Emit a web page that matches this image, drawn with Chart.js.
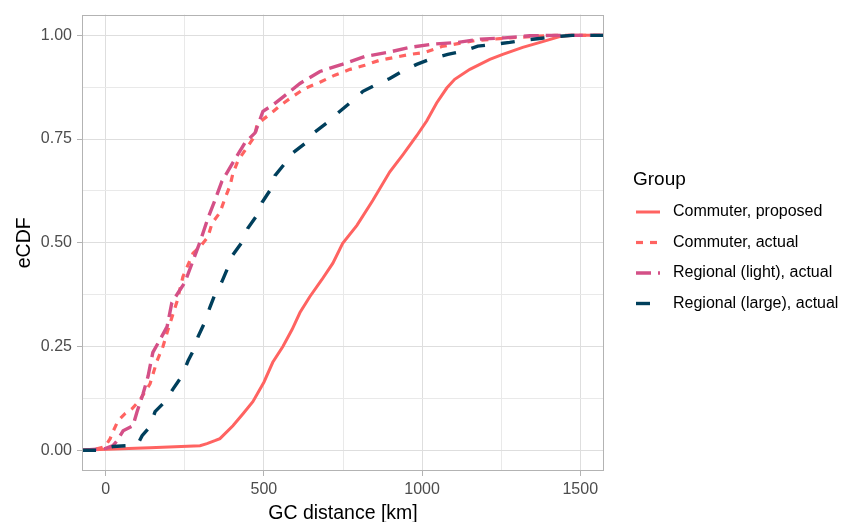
<!DOCTYPE html>
<html>
<head>
<meta charset="utf-8">
<script src="https://cdn.jsdelivr.net/npm/chart.js@4.4.0/dist/chart.umd.min.js"></script>
<style>
html,body{margin:0;padding:0;background:#ffffff;}
#wrap{width:843px;height:522px;}
</style>
</head>
<body>
<div id="wrap"><canvas id="c" width="843" height="522"></canvas></div>
<script>
// ---- data ----
const seriesLabels = ["Commuter, proposed", "Commuter, actual", "Regional (light), actual", "Regional (large), actual"];

const proposedX = [-75, -18, 140, 298, 320, 345, 361, 402, 434, 465, 500, 528, 560, 589, 614, 645, 683, 718, 749, 794, 844, 898, 939, 983, 1015, 1046, 1078, 1103, 1151, 1214, 1255, 1318, 1381, 1435, 1477, 1575];
const proposedY = [0, 0.002, 0.006, 0.011, 0.016, 0.023, 0.028, 0.059, 0.088, 0.117, 0.164, 0.212, 0.250, 0.291, 0.332, 0.370, 0.411, 0.451, 0.499, 0.542, 0.602, 0.671, 0.712, 0.758, 0.794, 0.837, 0.873, 0.894, 0.918, 0.942, 0.954, 0.971, 0.985, 0.997, 1.0, 1.0];

const commuterActualX = [-75, -34, -2, 14, 23, 39, 61, 83, 108, 140, 162, 181, 197, 225, 244, 276, 298, 323, 336, 361, 377, 393, 402, 418, 446, 472, 478, 519, 557, 592, 629, 677, 724, 772, 819, 866, 914, 961, 1009, 1062, 1113, 1166, 1245, 1340, 1419, 1575];
const commuterActualY = [0, 0.002, 0.009, 0.028, 0.045, 0.071, 0.088, 0.100, 0.121, 0.160, 0.215, 0.250, 0.291, 0.358, 0.418, 0.475, 0.490, 0.514, 0.547, 0.573, 0.607, 0.638, 0.667, 0.698, 0.729, 0.758, 0.786, 0.810, 0.834, 0.853, 0.872, 0.887, 0.904, 0.918, 0.928, 0.940, 0.947, 0.954, 0.959, 0.973, 0.980, 0.987, 0.992, 0.997, 1.0, 1.0];

const regionalLightX = [-75, -2, 23, 36, 55, 86, 99, 118, 134, 149, 172, 194, 209, 235, 250, 273, 298, 323, 345, 367, 402, 440, 472, 497, 528, 560, 614, 677, 747, 819, 892, 961, 1034, 1113, 1183, 1261, 1340, 1419, 1575];
const regionalLightY = [0, 0.004, 0.011, 0.023, 0.047, 0.059, 0.093, 0.136, 0.179, 0.236, 0.267, 0.298, 0.356, 0.387, 0.404, 0.451, 0.502, 0.559, 0.602, 0.648, 0.693, 0.741, 0.765, 0.817, 0.832, 0.851, 0.884, 0.913, 0.930, 0.949, 0.959, 0.971, 0.979, 0.983, 0.991, 0.994, 0.999, 1.0, 1.0];

const regionalLargeX = [-75, -27, -9, 23, 70, 102, 115, 140, 156, 187, 213, 241, 260, 282, 292, 314, 329, 345, 367, 386, 402, 431, 449, 478, 494, 519, 535, 566, 592, 629, 661, 699, 734, 772, 813, 857, 898, 936, 983, 1024, 1081, 1129, 1176, 1223, 1277, 1318, 1378, 1425, 1475, 1575];
const regionalLargeY = [0, 0, 0.004, 0.009, 0.011, 0.016, 0.035, 0.057, 0.093, 0.117, 0.148, 0.179, 0.215, 0.248, 0.274, 0.310, 0.344, 0.375, 0.406, 0.440, 0.471, 0.502, 0.535, 0.566, 0.597, 0.626, 0.662, 0.691, 0.717, 0.739, 0.767, 0.789, 0.813, 0.837, 0.865, 0.882, 0.896, 0.913, 0.930, 0.942, 0.954, 0.962, 0.974, 0.978, 0.983, 0.988, 0.993, 0.997, 1.0, 1.0];

const xTickValues = [0, 250, 500, 750, 1000, 1250, 1500];
const xMajorTicks = [0, 500, 1000, 1500];
const yTickValues = [0, 0.125, 0.25, 0.375, 0.5, 0.625, 0.75, 0.875, 1.0];
const yMajorTicks = [0, 0.25, 0.5, 0.75, 1.0];

// ---- build ----
function pts(xs, ys) { return xs.map((x, i) => ({ x: x, y: ys[i] })); }
const FONT = "'Liberation Sans', Arial, Helvetica, sans-serif";
const isMajorX = v => xMajorTicks.some(m => Math.abs(m - v) < 1e-6);
const isMajorY = v => yMajorTicks.some(m => Math.abs(m - v) < 1e-6);

const colors = ["#ff6361", "#ff6361", "#d45087", "#003f5c"];
const dashes = [[], [7, 7], [15, 7], [14, 16]];
const widths = [3, 3.2, 3.4, 3.4];
const seriesData = [
  pts(proposedX, proposedY),
  pts(commuterActualX, commuterActualY),
  pts(regionalLightX, regionalLightY),
  pts(regionalLargeX, regionalLargeY)
];

const datasets = seriesData.map((d, i) => ({
  label: seriesLabels[i],
  data: d,
  borderColor: colors[i],
  backgroundColor: colors[i],
  borderWidth: widths[i],
  borderDash: dashes[i],
  pointRadius: 0,
  tension: 0,
  fill: false,
  order: 3 - i
}));

const framePlugin = {
  id: 'frame',
  afterDatasetsDraw(chart) {
    const a = chart.chartArea, ctx = chart.ctx;
    ctx.save();
    ctx.strokeStyle = '#b3b3b3';
    ctx.lineWidth = 1;
    ctx.setLineDash([]);
    ctx.strokeRect(Math.round(a.left) + 0.5, Math.round(a.top) + 0.5, Math.round(a.right - a.left) - 1, Math.round(a.bottom - a.top) - 1);
    ctx.restore();
  }
};

const legendPlugin = {
  id: 'ggLegend',
  afterDraw(chart) {
    const ctx = chart.ctx;
    ctx.save();
    ctx.fillStyle = '#000000';
    ctx.textBaseline = 'middle';
    ctx.textAlign = 'left';
    ctx.font = "19px " + FONT;
    ctx.fillText('Group', 633, 180);
    chart.data.datasets.forEach((ds, i) => {
      const y = 212 + i * 30.5;
      ctx.beginPath();
      ctx.strokeStyle = ds.borderColor;
      ctx.lineWidth = ds.borderWidth;
      ctx.setLineDash(ds.borderDash || []);
      ctx.moveTo(636, y);
      ctx.lineTo(660, y);
      ctx.stroke();
      ctx.setLineDash([]);
      ctx.fillStyle = '#000000';
      ctx.font = "16px " + FONT;
      ctx.fillText(ds.label, 673, y);
    });
    ctx.restore();
  }
};

new Chart(document.getElementById('c'), {
  type: 'line',
  data: { datasets: datasets },
  options: {
    responsive: false,
    animation: false,
    devicePixelRatio: 1,
    layout: { padding: { left: 0, top: 13, right: 239, bottom: 0 } },
    plugins: {
      legend: { display: false },
      tooltip: { enabled: false }
    },
    scales: {
      x: {
        type: 'linear',
        min: -75,
        max: 1575,
        afterBuildTicks(scale) { scale.ticks = xTickValues.map(v => ({ value: v })); },
        afterFit(scale) { scale.height = 51; },
        border: { display: false },
        grid: {
          color: c => isMajorX(c.tick.value) ? '#dedede' : '#e9e9e9',
          lineWidth: 1,
          tickLength: 5,
          tickColor: c => isMajorX(c.tick.value) ? '#b3b3b3' : 'rgba(0,0,0,0)'
        },
        ticks: {
          autoSkip: false,
          maxRotation: 0,
          padding: 4,
          color: '#4d4d4d',
          font: { family: FONT, size: 16 },
          callback: v => isMajorX(v) ? String(v) : ''
        },
        title: {
          display: true,
          text: 'GC distance [km]',
          color: '#000000',
          font: { family: FONT, size: 19.5 },
          padding: { top: 0, bottom: -3 }
        }
      },
      y: {
        type: 'linear',
        min: -0.05,
        max: 1.05,
        afterBuildTicks(scale) { scale.ticks = yTickValues.map(v => ({ value: v })); },
        afterFit(scale) { scale.width = 82; },
        border: { display: false },
        grid: {
          color: c => isMajorY(c.tick.value) ? '#dedede' : '#e9e9e9',
          lineWidth: 1,
          tickLength: 5,
          tickColor: c => isMajorY(c.tick.value) ? '#b3b3b3' : 'rgba(0,0,0,0)'
        },
        ticks: {
          autoSkip: false,
          padding: 5,
          color: '#4d4d4d',
          font: { family: FONT, size: 16 },
          callback: v => isMajorY(v) ? v.toFixed(2) : ''
        },
        title: {
          display: true,
          text: 'eCDF',
          color: '#000000',
          font: { family: FONT, size: 19.5 },
          padding: { top: 13, bottom: 0 }
        }
      }
    }
  },
  plugins: [framePlugin, legendPlugin]
});
</script>
</body>
</html>
